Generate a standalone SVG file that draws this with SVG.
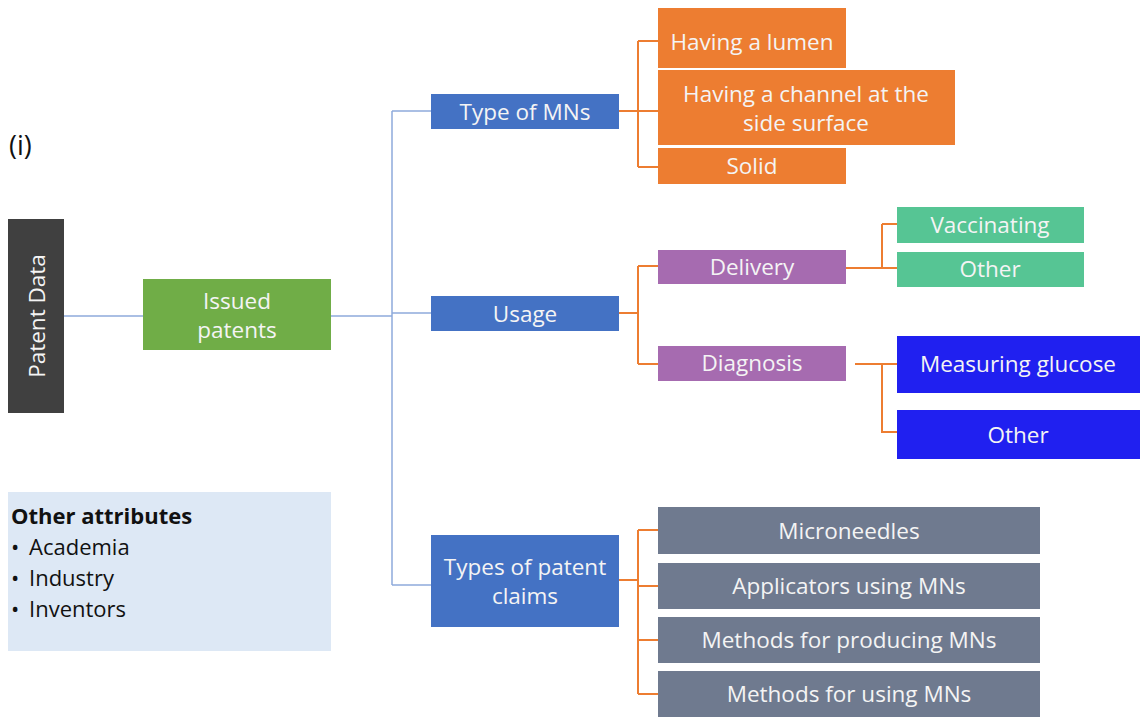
<svg xmlns="http://www.w3.org/2000/svg" width="1140" height="719" viewBox="0 0 1140 719">
<style>
text{font-family:"Open Sans","Liberation Sans",sans-serif;font-size:22.5px;fill:#f4f4f4;text-anchor:middle;dominant-baseline:central}
.blu{stroke:#8eaadb;stroke-width:1.5;fill:none}
.org{stroke:#ed7d31;stroke-width:2;fill:none}
.k{fill:#111;text-anchor:start;font-size:22px}
</style>
<rect width="1140" height="719" fill="#fff"/>
<text class="k" x="9" y="144" style="font-size:27px">(i)</text>
<g id="connectors">
<path class="blu" d="M64 316H143M331 316H392M392 111V585M392 111H431M392 313H431M392 585H431"/>
<path class="org" d="M619 111H658M638 41V167M638 41H658M638 167H658"/>
<path class="org" d="M619 313H638M638 266V364M638 266H658M638 364H658"/>
<path class="org" d="M846 268H897M882 224V268M882 224H897"/>
<path class="org" d="M855 364H897M882 364V432H897"/>
<path class="org" d="M619 580H638M638 530V694M638 530H658M638 586H658M638 640H658M638 694H658"/>
</g>
<g id="patent-data"><rect x="8" y="219" width="56" height="194" fill="#404040"/><text transform="translate(36 316) rotate(-90)">Patent Data</text></g>
<g id="issued"><rect x="143" y="279" width="188" height="71" fill="#70ad47"/><text x="237" y="300">Issued</text><text x="237" y="329">patents</text></g>
<g id="type-mns"><rect x="431" y="94" width="188" height="35" fill="#4472c4"/><text x="525" y="111">Type of MNs</text></g>
<g id="lumen"><rect x="658" y="8" width="188" height="60" fill="#ed7d31"/><text x="752" y="41">Having a lumen</text></g>
<g id="channel"><rect x="658" y="70" width="297" height="75" fill="#ed7d31"/><text x="806" y="93">Having a channel at the</text><text x="806" y="122">side surface</text></g>
<g id="solid"><rect x="658" y="148" width="188" height="36" fill="#ed7d31"/><text x="752" y="165">Solid</text></g>
<g id="usage"><rect x="431" y="296" width="188" height="35" fill="#4472c4"/><text x="525" y="313">Usage</text></g>
<g id="delivery"><rect x="658" y="250" width="188" height="34" fill="#a66bb0"/><text x="752" y="266">Delivery</text></g>
<g id="diagnosis"><rect x="658" y="346" width="188" height="35" fill="#a66bb0"/><text x="752" y="362">Diagnosis</text></g>
<g id="vaccinating"><rect x="897" y="207" width="187" height="36" fill="#56c594"/><text x="990" y="224">Vaccinating</text></g>
<g id="other-delivery"><rect x="897" y="252" width="187" height="35" fill="#56c594"/><text x="990" y="268">Other</text></g>
<g id="glucose"><rect x="897" y="336" width="243" height="57" fill="#2020f0"/><text x="1018" y="363">Measuring glucose</text></g>
<g id="other-diagnosis"><rect x="897" y="410" width="243" height="49" fill="#2020f0"/><text x="1018" y="434">Other</text></g>
<g id="claims"><rect x="431" y="535" width="188" height="92" fill="#4472c4"/><text x="525" y="566">Types of patent</text><text x="525" y="595">claims</text></g>
<g id="microneedles"><rect x="658" y="507" width="382" height="47" fill="#6f7a8f"/><text x="849" y="530">Microneedles</text></g>
<g id="applicators"><rect x="658" y="563" width="382" height="46" fill="#6f7a8f"/><text x="849" y="585">Applicators using MNs</text></g>
<g id="producing"><rect x="658" y="617" width="382" height="46" fill="#6f7a8f"/><text x="849" y="639">Methods for producing MNs</text></g>
<g id="using"><rect x="658" y="671" width="382" height="46" fill="#6f7a8f"/><text x="849" y="693">Methods for using MNs</text></g>
<g id="other-attributes"><rect x="8" y="492" width="323" height="159" fill="#dde8f5"/>
<text class="k" x="11" y="515" style="font-weight:bold">Other attributes</text>
<text class="k" x="11" y="546">•</text><text class="k" x="29" y="546">Academia</text>
<text class="k" x="11" y="577">•</text><text class="k" x="29" y="577">Industry</text>
<text class="k" x="11" y="608">•</text><text class="k" x="29" y="608">Inventors</text>
</g>
</svg>
